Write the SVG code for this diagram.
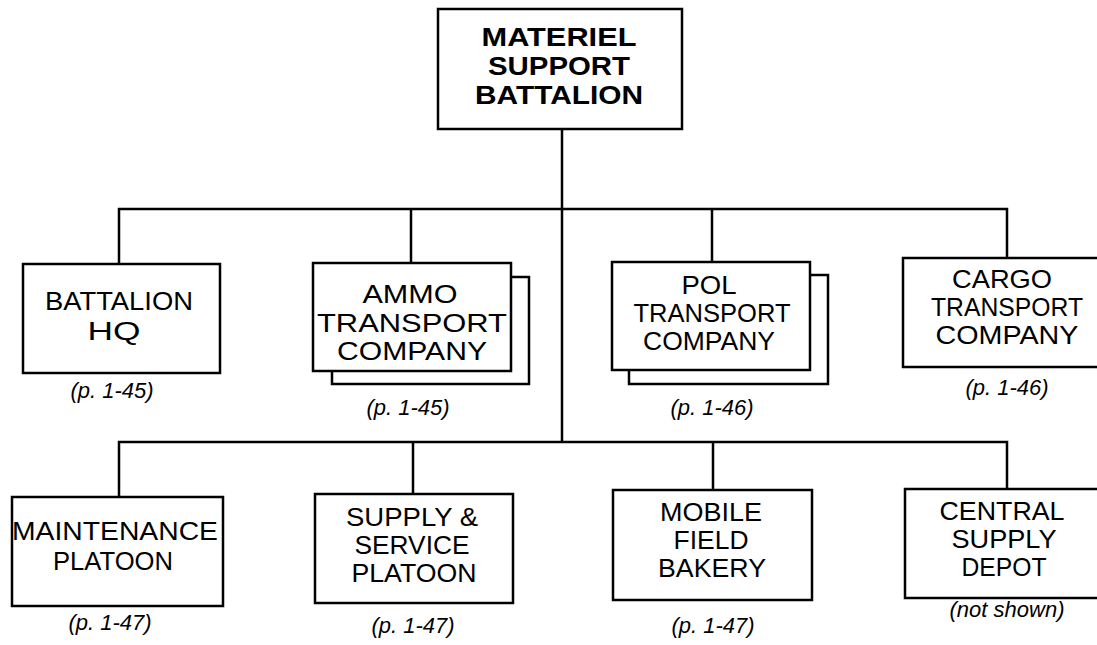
<svg xmlns="http://www.w3.org/2000/svg" width="1097" height="645" viewBox="0 0 1097 645">
<style>
.box{fill:#fff;stroke:#000;stroke-width:2.5}
.ln{fill:none;stroke:#000;stroke-width:2.5}
.t{font-family:"Liberation Sans",Arial,sans-serif;font-size:25px;text-anchor:middle;fill:#000}
.tb{font-family:"Liberation Sans",Arial,sans-serif;font-size:26px;font-weight:bold;text-anchor:middle;fill:#000}
.ref{font-family:"Liberation Sans",Arial,sans-serif;font-size:22px;font-style:italic;text-anchor:middle;fill:#000}
</style>
<rect width="1097" height="645" fill="#fff"/>
<g id="connectors">
<line class="ln" x1="562" y1="129" x2="562" y2="442"/>
<polyline class="ln" points="119,264 119,209 1007,209 1007,258"/>
<line class="ln" x1="411" y1="209" x2="411" y2="263"/>
<line class="ln" x1="712" y1="209" x2="712" y2="262"/>
<polyline class="ln" points="119,497 119,442 1007,442 1007,489"/>
<line class="ln" x1="413" y1="442" x2="413" y2="494"/>
<line class="ln" x1="713" y1="442" x2="713" y2="490"/>
</g>
<g id="materiel">
<rect class="box" x="438" y="9" width="244" height="120"/>
<text class="tb" x="559" y="46" textLength="155" lengthAdjust="spacingAndGlyphs">MATERIEL</text>
<text class="tb" x="559" y="75" textLength="142" lengthAdjust="spacingAndGlyphs">SUPPORT</text>
<text class="tb" x="559" y="104" textLength="168" lengthAdjust="spacingAndGlyphs">BATTALION</text>
</g>
<g id="hq">
<rect class="box" x="23" y="264" width="197" height="109"/>
<text class="t" x="119" y="310" textLength="148" lengthAdjust="spacingAndGlyphs">BATTALION</text>
<text class="t" x="114" y="340" textLength="53" lengthAdjust="spacingAndGlyphs">HQ</text>
<text class="ref" x="112" y="398">(p. 1-45)</text>
</g>
<g id="ammo">
<rect class="box" x="332" y="277" width="197" height="107"/>
<rect class="box" x="313" y="263" width="198" height="108"/>
<text class="t" x="410" y="303" textLength="95" lengthAdjust="spacingAndGlyphs">AMMO</text>
<text class="t" x="412" y="332" textLength="190" lengthAdjust="spacingAndGlyphs">TRANSPORT</text>
<text class="t" x="412" y="360" textLength="150" lengthAdjust="spacingAndGlyphs">COMPANY</text>
<text class="ref" x="408" y="415">(p. 1-45)</text>
</g>
<g id="pol">
<rect class="box" x="629" y="275" width="199" height="109"/>
<rect class="box" x="612" y="262" width="198" height="108"/>
<text class="t" x="709" y="294" textLength="55" lengthAdjust="spacingAndGlyphs">POL</text>
<text class="t" x="712" y="322" textLength="157" lengthAdjust="spacingAndGlyphs">TRANSPORT</text>
<text class="t" x="709" y="350" textLength="132" lengthAdjust="spacingAndGlyphs">COMPANY</text>
<text class="ref" x="712" y="415">(p. 1-46)</text>
</g>
<g id="cargo">
<rect class="box" x="903" y="258" width="200" height="109"/>
<text class="t" x="1002" y="288" textLength="100" lengthAdjust="spacingAndGlyphs">CARGO</text>
<text class="t" x="1007" y="316" textLength="152" lengthAdjust="spacingAndGlyphs">TRANSPORT</text>
<text class="t" x="1007" y="344" textLength="143" lengthAdjust="spacingAndGlyphs">COMPANY</text>
<text class="ref" x="1007" y="395">(p. 1-46)</text>
</g>
<g id="maintenance">
<rect class="box" x="12" y="497" width="211" height="109"/>
<text class="t" x="115" y="540" textLength="206" lengthAdjust="spacingAndGlyphs">MAINTENANCE</text>
<text class="t" x="113" y="570" textLength="120" lengthAdjust="spacingAndGlyphs">PLATOON</text>
<text class="ref" x="110" y="630">(p. 1-47)</text>
</g>
<g id="supply">
<rect class="box" x="315" y="494" width="198" height="109"/>
<text class="t" x="412" y="526" textLength="132" lengthAdjust="spacingAndGlyphs">SUPPLY &amp;</text>
<text class="t" x="412" y="554" textLength="115" lengthAdjust="spacingAndGlyphs">SERVICE</text>
<text class="t" x="414" y="582" textLength="125" lengthAdjust="spacingAndGlyphs">PLATOON</text>
<text class="ref" x="413" y="633">(p. 1-47)</text>
</g>
<g id="bakery">
<rect class="box" x="613" y="490" width="199" height="110"/>
<text class="t" x="711" y="521" textLength="102" lengthAdjust="spacingAndGlyphs">MOBILE</text>
<text class="t" x="711" y="549" textLength="75" lengthAdjust="spacingAndGlyphs">FIELD</text>
<text class="t" x="712" y="577" textLength="108" lengthAdjust="spacingAndGlyphs">BAKERY</text>
<text class="ref" x="713" y="633">(p. 1-47)</text>
</g>
<g id="depot">
<rect class="box" x="905" y="489" width="200" height="109"/>
<text class="t" x="1002" y="520" textLength="125" lengthAdjust="spacingAndGlyphs">CENTRAL</text>
<text class="t" x="1004" y="548" textLength="105" lengthAdjust="spacingAndGlyphs">SUPPLY</text>
<text class="t" x="1004" y="576" textLength="85" lengthAdjust="spacingAndGlyphs">DEPOT</text>
<text class="ref" x="1007" y="617">(not shown)</text>
</g>
</svg>
